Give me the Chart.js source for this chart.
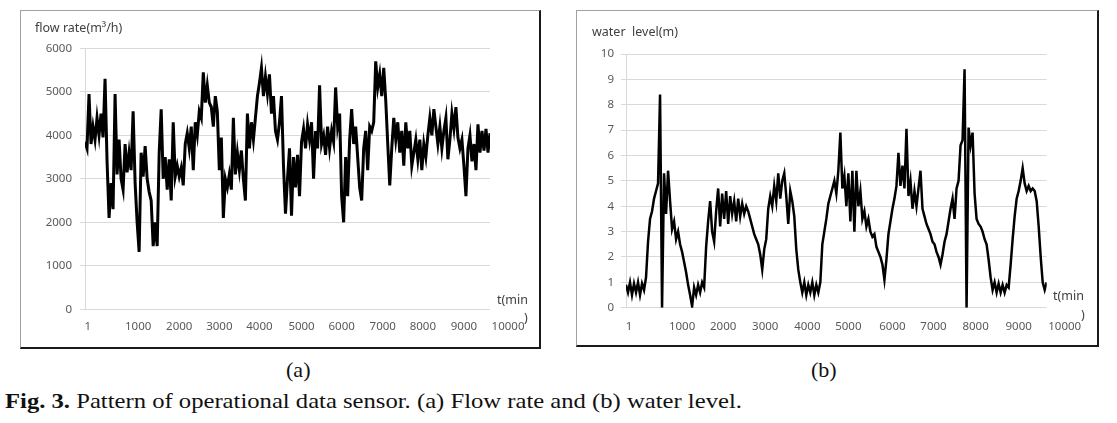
<!DOCTYPE html>
<html><head><meta charset="utf-8">
<script src="https://cdn.jsdelivr.net/npm/chart.js@4/dist/chart.umd.min.js"></script>
<style>
html,body{margin:0;padding:0;background:#fff;}
body{width:1117px;height:423px;overflow:hidden;position:relative;font-family:"Noto Sans",sans-serif;}
.panel{position:absolute;border-left:1px solid #a0a0a0;border-top:1px solid #a0a0a0;border-right:2px solid #1a1a1a;border-bottom:2px solid #1a1a1a;}
.panel canvas{position:absolute;left:0;top:0;}
.t{position:absolute;white-space:pre;color:#404040;font-size:12.5px;line-height:14px;}
.cap{position:absolute;font-family:"Liberation Serif",serif;color:#111;white-space:pre;line-height:1;transform-origin:left top;}
</style></head><body>
<div class="panel" style="left:20px;top:10px;width:518px;height:336px;"><canvas id="ca" width="518" height="336"></canvas></div>
<div class="panel" style="left:576px;top:10px;width:520px;height:334px;"><canvas id="cb" width="520" height="334"></canvas></div>
<div class="t" style="left:35px;top:21px;">flow rate(m³/h)</div>
<div class="t" style="left:592px;top:25px;">water  level(m)</div>
<div class="t" style="left:497px;top:293px;">t(min</div>
<div class="t" style="left:524px;top:311px;">)</div>
<div class="t" style="left:1053px;top:289px;">t(min</div>
<div class="t" style="left:1081px;top:308px;">)</div>
<div class="cap" style="left:286px;top:360px;font-size:21px;transform:scaleX(1.05);">(a)</div>
<div class="cap" style="left:811px;top:360px;font-size:21px;transform:scaleX(1.05);">(b)</div>
<div class="cap" style="left:5px;top:390px;font-size:22px;transform:scaleX(1.12);"><b>Fig. 3.</b> Pattern of operational data sensor. (a) Flow rate and (b) water level.</div>
<script>
const flowRate = [
 3850,3700,4950,3800,4200,3900,4400,4000,4500,3950,
 5300,3400,2100,2900,2300,4950,3100,3900,3000,2750,
 3800,3150,3600,3200,4550,2900,2000,1320,3600,3050,
 3750,3000,2700,2500,1450,2000,1450,3600,4600,3000,
 3500,2750,3450,2500,4300,3050,3300,3050,3250,2850,
 3800,4050,3700,4200,3200,4300,4000,4550,4400,5450,
 4750,5150,4750,4650,4200,4900,4550,3200,3950,2100,
 3000,2800,3100,2750,4400,3100,3600,3200,3650,3000,
 2500,4500,3700,4300,3900,4400,4900,5200,5550,4900,
 5350,4950,5400,4500,4900,4100,3900,4300,4900,3300,
 2200,3000,3700,
 2150,3500,2800,3550,2600,3850,4150,3700,4250,3900,
 4300,3000,4100,3700,5150,3800,4000,3550,4200,3700,
 4100,3850,5100,4200,4500,2600,2000,3500,2600,3900,
 4600,3800,4200,3500,2800,2500,3700,4100,3200,4200,
 4100,4300,5700,5100,5400,4900,5550,4800,3800,2850,
 3700,4400,3900,4300,3600,4100,3300,4300,3700,4100,
 3300,3600,3900,3450,3900,3200,3800,3500,4000,4400,
 4000,4600,4200,3800,4200,3700,4100,4400,3450,3900,
 4500,4150,4650,3950,3700,3900,3300,2600,3700,4000,
 3400,3800,3200,4250,3600,4100,3650,4150,3600,4050
];
const waterLevel = [
 0.9,0.6,1.0,0.5,0.95,0.6,1.0,0.5,0.95,0.7,
 1.2,2.6,3.5,3.8,4.3,4.6,4.9,8.4,0.0,5.3,
 3.7,5.4,4.2,3.1,3.4,2.7,3.0,2.5,2.2,1.8,
 1.4,0.9,0.5,0.05,0.8,0.5,0.9,0.6,1.0,0.8,
 2.4,3.4,4.2,3.0,2.6,3.8,4.7,3.2,4.5,3.5,
 4.6,3.3,4.4,3.7,4.2,3.4,4.3,3.6,4.1,3.7,
 4.0,3.8,3.5,3.2,2.9,2.7,2.5,2.1,1.5,2.3,
 2.7,3.9,4.4,4.0,4.8,4.2,5.3,4.3,5.0,5.3,
 4.4,3.3,4.6,4.2,3.6,2.3,1.5,1.0,0.6,1.0,
 0.5,0.9,0.6,1.0,0.5,0.9,0.6,1.0,2.5,3.0,
 3.5,4.1,4.4,4.7,5.0,4.5,5.4,6.9,4.7,5.2,
 4.0,5.3,3.4,5.4,3.0,5.4,4.0,4.6,3.5,3.8,
 3.2,3.5,3.0,2.8,2.9,2.4,2.2,2.0,1.7,1.1,
 1.9,2.9,3.4,3.9,4.3,4.8,6.1,4.8,5.6,4.7,
 7.05,4.4,5.0,3.9,4.6,4.0,4.7,5.4,3.9,3.6,
 3.3,3.1,2.9,2.6,2.5,2.2,2.0,1.7,2.1,2.6,
 2.9,3.4,3.9,4.3,3.5,4.7,5.0,6.4,6.6,9.4,
 0.0,7.1,6.4,6.9,4.5,3.5,3.3,3.2,3.0,2.7,
 2.5,1.9,1.2,0.7,1.0,0.6,0.95,0.6,0.9,0.6,
 0.9,0.8,1.7,2.7,3.6,4.3,4.6,5.0,5.5,4.9,
 4.6,4.8,4.6,4.7,4.6,4.2,3.2,2.0,1.0,0.7,1.0
];
const xTickLabels = ['1','1000','2000','3000','4000','5000','6000','7000','8000','9000','10000'];
const flowTickAt  = [1.4, 26.5, 47, 67, 87, 108, 128, 148.5, 168.5, 189, 211];
const waterTickAt = [1.5, 28, 48.5, 69.5, 90.5, 111, 133, 153.5, 174.5, 196, 219];

const tickFont = {family:'Noto Sans', size:11.5};
const tickColor = '#595959';

function makeChart(id, values, tickAt, yMin, yMax, yStep, lw, g) {
  new Chart(document.getElementById(id), {
    type: 'line',
    data: {datasets: [{
      data: values.map((v, i) => ({x: i, y: v})),
      borderColor: '#000', borderWidth: lw, pointRadius: 0, tension: 0, fill: false
    }]},
    options: {
      responsive: false, animation: false, devicePixelRatio: 1,
      layout: {padding: {left: 0, top: g.T, right: g.R, bottom: 0}},
      plugins: {legend: {display: false}, tooltip: {enabled: false}},
      scales: {
        x: {
          type: 'linear', min: 0, max: values.length - 1,
          grid: {display: false, drawTicks: false}, border: {display: false},
          afterBuildTicks: s => { s.ticks = tickAt.map(v => ({value: v})); },
          afterFit: s => { s.height = g.B; },
          ticks: {autoSkip: false, maxRotation: 0, minRotation: 0, padding: g.xPad,
                  color: tickColor, font: tickFont, callback: (v, i) => xTickLabels[i]}
        },
        y: {
          min: yMin, max: yMax,
          grid: {color: '#d9d9d9', lineWidth: 1, tickLength: 5, drawTicks: true},
          border: {display: true, color: '#d9d9d9'},
          afterFit: s => { s.width = g.L; },
          ticks: {stepSize: yStep, padding: g.yPad, color: tickColor, font: tickFont,
                  callback: v => String(v)}
        }
      }
    }
  });
}

makeChart('ca', flowRate, flowTickAt, 0, 6000, 1000, 3, {L: 64, R: 49, T: 37.3, B: 37.7, xPad: 11, yPad: 8});
makeChart('cb', waterLevel, waterTickAt, 0, 10, 1, 2.5, {L: 49, R: 50.3, T: 43, B: 37.3, xPad: 12, yPad: 7});
</script>
</body></html>
